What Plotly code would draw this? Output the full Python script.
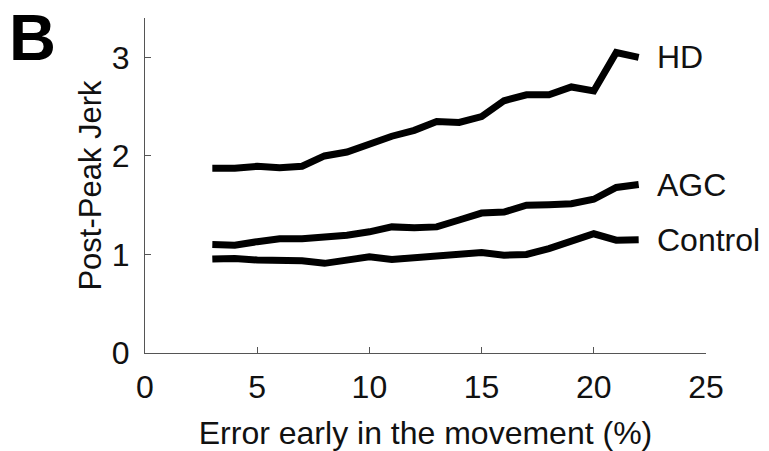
import plotly.graph_objects as go

x_vals = [3, 4, 5, 6, 7, 8, 9, 10, 11, 12, 13, 14, 15, 16, 17, 18, 19, 20, 21, 22]
hd = [1.875, 1.875, 1.895, 1.88, 1.895, 2.0, 2.04, 2.12, 2.20, 2.26, 2.35, 2.34, 2.40, 2.56, 2.62, 2.62, 2.70, 2.66, 3.05, 3.00]
agc = [1.10, 1.094, 1.13, 1.16, 1.16, 1.17, 1.195, 1.23, 1.28, 1.27, 1.28, 1.35, 1.42, 1.43, 1.50, 1.505, 1.515, 1.56, 1.68, 1.71]
control = [0.953, 0.96, 0.943, 0.943, 0.936, 0.91, 0.943, 0.976, 0.95, 0.966, 0.983, 1.01, 1.02, 0.993, 1.0, 1.06, 1.13, 1.21, 1.145, 1.15]
series_names = ["HD", "AGC", "Control"]
x_ticks = [0, 5, 10, 15, 20, 25]
y_ticks = [0, 1, 2, 3]

FONT = "Liberation Sans, Arial, sans-serif"

fig = go.Figure()
for name, ys in zip(series_names, [hd, agc, control]):
    fig.add_trace(go.Scatter(x=x_vals, y=ys, mode="lines", name=name,
                             line=dict(color="black", width=7),
                             showlegend=False))
    fig.add_annotation(x=22.72, y=ys[-1], xref="x", yref="y", text=name,
                       showarrow=False, xanchor="left", yanchor="middle",
                       font=dict(family=FONT, size=32, color="#111"))

fig.add_annotation(x=-0.245, y=1.0537, xref="paper", yref="paper", text="<b>B</b>",
                   showarrow=False, xanchor="left", yanchor="top", borderpad=0,
                   font=dict(family=FONT, size=65, color="black"))

axis_common = dict(showline=True, linecolor="#555", linewidth=1.2,
                   ticks="inside", ticklen=6, tickcolor="#555", tickwidth=1,
                   showgrid=False, zeroline=False, automargin=False,
                   tickfont=dict(family=FONT, size=32, color="#111"))

fig.update_xaxes(range=[0, 25], tickvals=x_ticks, ticklabelstandoff=5,
                 title=dict(text="Error early in the movement (%)",
                            font=dict(family=FONT, size=32, color="#111"), standoff=18),
                 **axis_common)
fig.update_yaxes(range=[0, 3.4], tickvals=y_ticks, ticklabelstandoff=8,
                 title=dict(text="Post-Peak Jerk",
                            font=dict(family=FONT, size=31, color="#111"), standoff=0),
                 **axis_common)

fig.update_layout(width=769, height=451,
                  margin=dict(l=145, r=63, t=18, b=98),
                  plot_bgcolor="white", paper_bgcolor="white")

fig.write_html("out.html", config={"displayModeBar": False},
               post_script="document.body.style.margin='0';document.body.style.overflow='hidden';")
